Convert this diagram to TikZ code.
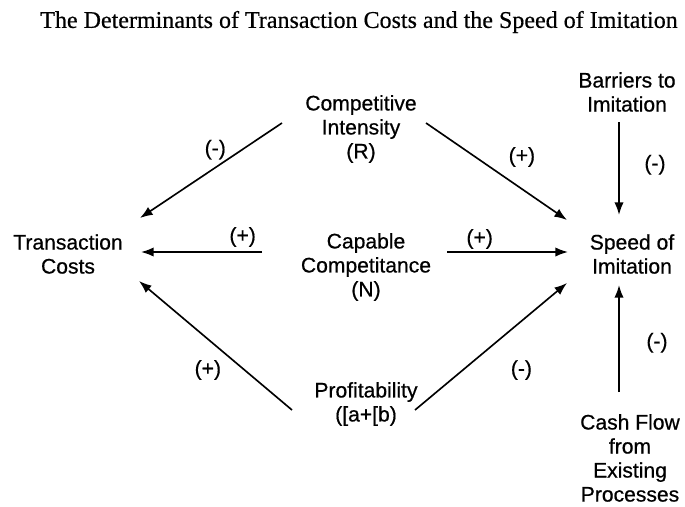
\documentclass[tikz,border=0pt]{standalone}
\usepackage{fontspec}
\setmainfont{Liberation Serif}[FakeBold=0.5]
\setsansfont{Liberation Sans}[FakeBold=0.6]
\usetikzlibrary{arrows.meta, calc}

\begin{document}
\begin{tikzpicture}[
    x=0.03cm, y=-0.03cm,
    factor/.style = {align=center, inner sep=0pt,
                     font=\sffamily\fontsize{18}{20.5}\selectfont},
    sign/.style   = {inner sep=0pt, font=\sffamily\fontsize{18}{20.5}\selectfont},
    arr/.style    = {-{Latex[length=3.8mm, width=2.8mm]}, line width=1.4pt}
]
\useasboundingbox (0,0) rectangle (685,506);

% --- Columns: x coordinates ----------------------------------------------
\def\xL{68}
\def\xM{366}
\def\xR{630}

% --- Title ---------------------------------------------------------------
\node[font=\fontsize{20.5}{24}\selectfont] (title) at (359,22)
  {The Determinants of Transaction Costs and the Speed of Imitation};

% --- Determinants (middle) -----------------------------------------------
\node[factor] (ci) at (361,129)  {Competitive\\Intensity\\(R)};
\node[factor] (cc) at (\xM,267)  {Capable\\Competitance\\(N)};
\node[factor] (pr) at (\xM,404)  {Profitability\\([a+[b)};

% --- Outcomes (left and right) -------------------------------------------
\node[factor] (tc) at (\xL,254)  {Transaction\\Costs};
\node[factor] (sp) at (632,254)  {Speed of\\Imitation};

% --- Further influences on imitation (right column) ----------------------
\node[factor] (bi) at (627,92)   {Barriers to\\Imitation};
\node[factor] (cf) at (\xR,458)  {Cash Flow\\from\\Existing\\Processes};

% --- Edges: determinants -> transaction costs ----------------------------
\draw[arr] ($(ci)+(-79,-6)$)
  -- node[sign, pos=.47, yshift=.54cm] (s1) {(-)} ($(tc)+(72,-36)$);
\draw[arr] ($(cc)+(-104,-15)$)
  -- node[sign, pos=.16, yshift=.45cm] (s3) {(+)} ($(tc)+(73,-2)$);
\draw[arr] ($(pr)+(-74,6)$)
  -- node[sign, pos=.55, yshift=-.93cm] (s5) {(+)} ($(tc)+(71,27)$);

% --- Edges: determinants -> speed of imitation ---------------------------
\draw[arr] ($(ci)+(65,-6)$)
  -- node[sign, pos=.68, yshift=.96cm] (s2) {(+)} ($(sp)+(-65,-34)$);
\draw[arr] ($(cc)+(81,-15)$)
  -- node[sign, pos=.27, yshift=.39cm] (s4) {(+)} ($(sp)+(-64,-2)$);
\draw[arr] ($(pr)+(49,6)$)
  -- node[sign, pos=.70, yshift=-1.47cm] (s6) {(-)} ($(sp)+(-65,29)$);

% vertical influences (barriers from above, cash flow from below)
\draw[arr] ($(bi)+(-8,30)$)
  -- node[sign, pos=.46, xshift=1.08cm] (s7) {(-)} ($(sp)+(-13,-39)$);
\draw[arr] ($(cf)+(-11,-66)$)
  -- node[sign, pos=.46, xshift=1.14cm] (s8) {(-)} ($(sp)+(-13,31)$);
\end{tikzpicture}
\end{document}
